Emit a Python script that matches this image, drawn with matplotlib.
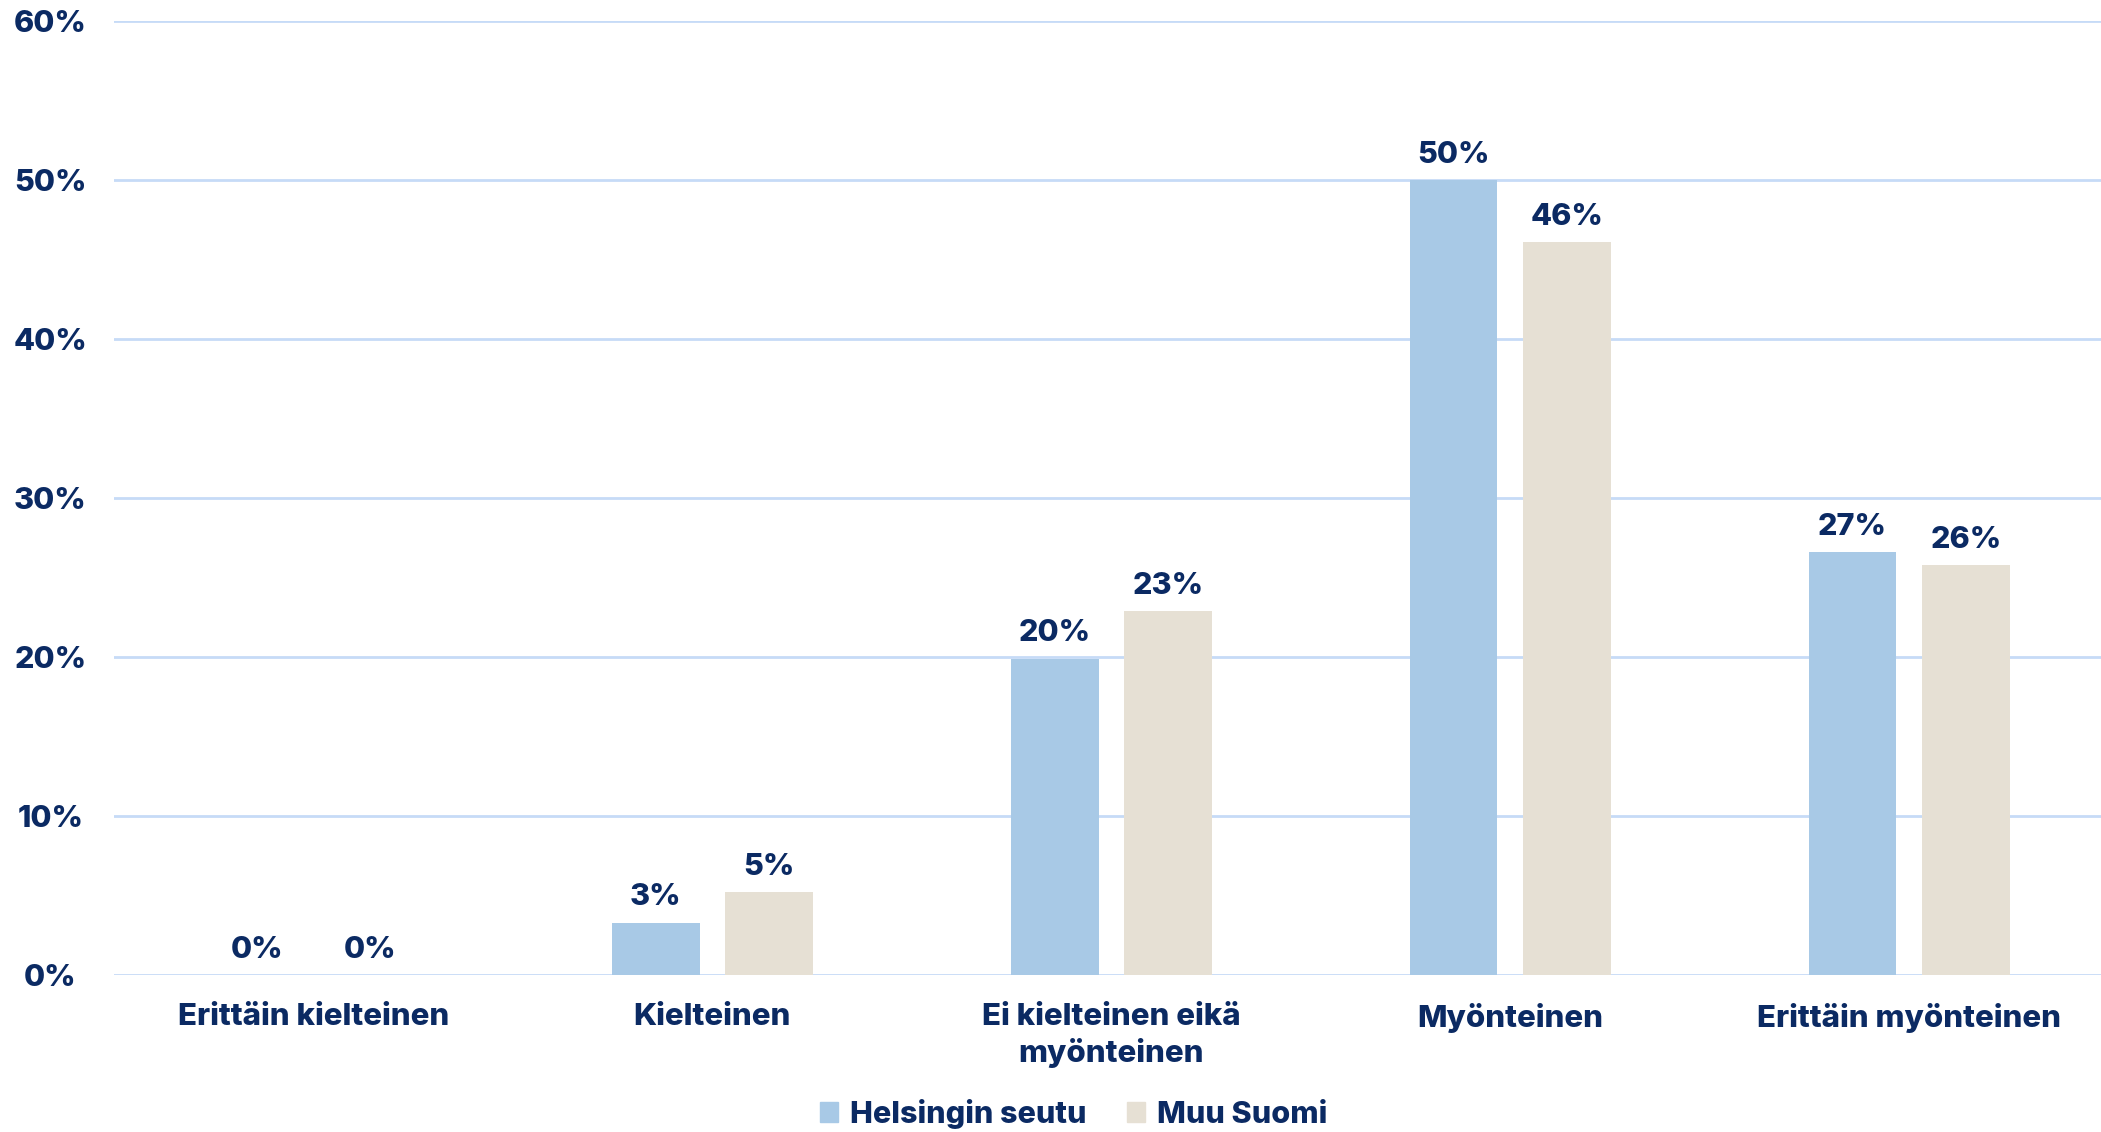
import matplotlib
matplotlib.use("Agg")
import matplotlib.pyplot as plt
from matplotlib.patches import Patch
import numpy as np

# data
categories = ["Erittäin kielteinen", "Kielteinen", "Ei kielteinen eikä\nmyönteinen",
              "Myönteinen", "Erittäin myönteinen"]
series_names = ["Helsingin seutu", "Muu Suomi"]
helsinki = [0.0, 3.3, 19.9, 50.0, 26.6]
muu_suomi = [0.0, 5.2, 22.9, 46.1, 25.8]
yticks = [0, 10, 20, 30, 40, 50, 60]

navy = "#0b2a63"
c_hel = "#a8c9e6"
c_muu = "#e6e0d4"
grid_c = "#c6dbf7"
wt = 800

plt.rcParams["font.family"] = ["Inter", "DejaVu Sans"]

fig = plt.figure(figsize=(21.01, 11.32), dpi=100)
ax = fig.add_axes([0.0543, 0.1387, 0.9493, 0.8427])

x = np.arange(len(categories))
w = 0.22
off = 0.142
b1 = ax.bar(x - off, helsinki, w, color=c_hel, zorder=2)
b2 = ax.bar(x + off, muu_suomi, w, color=c_muu, zorder=2)

for bars, vals in ((b1, helsinki), (b2, muu_suomi)):
    for r, v in zip(bars, vals):
        ax.annotate(f"{v:.0f}%", (r.get_x() + r.get_width() / 2, v),
                    xytext=(0, 8), textcoords="offset points",
                    ha="center", va="bottom", fontsize=22, color=navy,
                    fontweight=wt)

ax.set_xlim(-0.5, len(categories) - 0.5)
ax.set_ylim(0, 60)
ax.set_yticks(yticks)
ax.set_yticklabels([f"{t}%" for t in yticks])
ax.tick_params(axis="y", length=0, pad=46, labelsize=22, labelcolor=navy)
for lab in ax.get_yticklabels():
    lab.set_horizontalalignment("center")
    lab.set_fontweight(wt)
ax.set_xticks(x)
ax.set_xticklabels(categories, linespacing=1.3)
ax.tick_params(axis="x", length=0, pad=20, labelsize=22.5, labelcolor=navy)
for lab in ax.get_xticklabels():
    lab.set_fontweight(wt)

ax.yaxis.grid(True, color=grid_c, linewidth=2, zorder=0)
ax.set_axisbelow(True)
for s in ax.spines.values():
    s.set_visible(False)

handles = [Patch(color=c_hel), Patch(color=c_muu)]
fig.legend(handles, series_names, loc="center", bbox_to_anchor=(0.511, 0.016),
           ncol=2, frameon=False, handlelength=0.6, handleheight=0.6,
           handletextpad=0.4, columnspacing=1.3, labelcolor=navy,
           prop={"weight": wt, "size": 22})

fig.savefig("out.png", dpi=100)
